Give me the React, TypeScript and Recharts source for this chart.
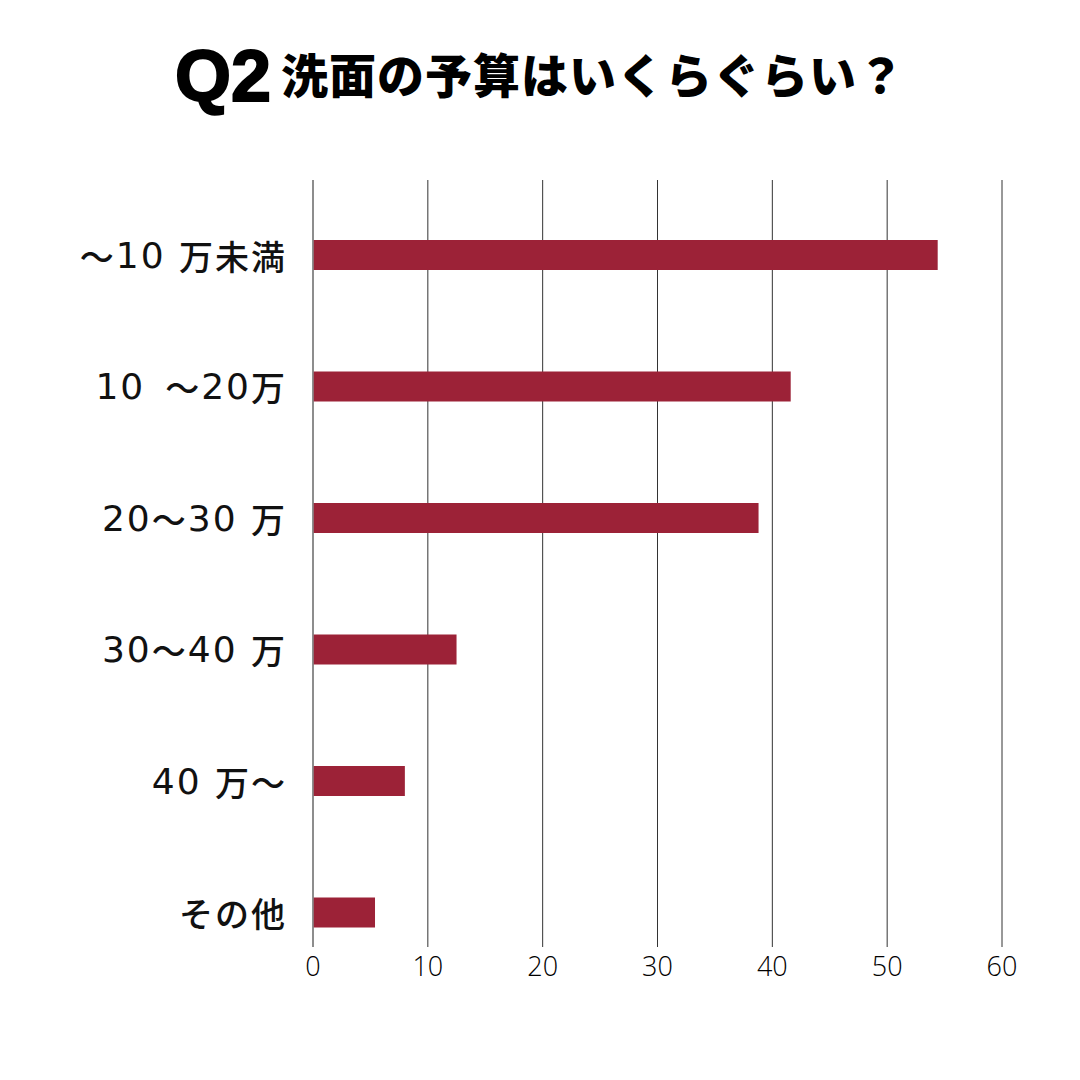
import React from "react";
import {
  BarChart, Bar, XAxis, YAxis, CartesianGrid, ReferenceLine
} from "recharts";

const CATEGORIES = ["～10 万未満", "10\u2002～20万", "20～30 万", "30～40 万", "40 万～", "その他"];
const VALUES = [54.4, 41.6, 38.8, 12.5, 8.0, 5.4];
const X_TICKS = [0, 10, 20, 30, 40, 50, 60];

const TITLE_Q = "Q2";
const TITLE_TEXT = "洗面の予算はいくらぐらい？";

const BAR_COLOR = "#9c2237";
const JP_FONT = "'Noto Sans CJK JP', 'Noto Sans', sans-serif";
const DIGIT_FONT = "'DejaVu Sans', sans-serif";

const data = CATEGORIES.map((label, i) => ({ label, value: VALUES[i] }));

// digits get a rounder latin face, kana/kanji stay in Noto CJK
function CategoryTick({ x, y, payload }: any) {
  const parts = String(payload.value).split(/([0-9 \u2002]+)/).filter(Boolean);
  return (
    <text
      x={x}
      y={y}
      textAnchor="end"
      dominantBaseline="central"
      letterSpacing={2}
      fill="#111"
      style={{ whiteSpace: "pre" }}
    >
      {parts.map((p, i) =>
        /^[0-9 \u2002]+$/.test(p) ? (
          <tspan key={i} fontFamily={DIGIT_FONT} fontSize={36}>{p}</tspan>
        ) : (
          <tspan key={i} fontFamily={JP_FONT} fontSize={34} fontWeight={500}>{p}</tspan>
        )
      )}
    </text>
  );
}

export default function App() {
  return (
    <div style={{ position: "absolute", left: 0, top: 0, width: 1080, height: 1080, background: "#fff" }}>
      <svg width={1080} height={130} style={{ position: "absolute", left: 0, top: 0 }}>
        <text x={175} y={101} fontFamily="'Liberation Sans', Arial, sans-serif" fontSize={72} fontWeight={700} fill="#000" stroke="#000" strokeWidth={2}>
          {TITLE_Q}
        </text>
        <text x={281} y={93} fontFamily={JP_FONT} fontSize={47} fontWeight={900} letterSpacing={1} fill="#000">
          {TITLE_TEXT}
        </text>
      </svg>
      <div style={{ position: "absolute", left: 0, top: 0 }}>
        <BarChart
          width={1080}
          height={1080}
          data={data}
          layout="vertical"
          margin={{ top: 180, right: 78, left: 33, bottom: 93 }}
        >
          <CartesianGrid horizontal={false} vertical={true} stroke="#333" strokeWidth={1} />
          <XAxis
            type="number"
            domain={[0, 60]}
            ticks={X_TICKS}
            interval={0}
            tickLine={false}
            axisLine={false}
            tickSize={0}
            tickMargin={10}
            height={40}
            tick={{ fill: "#000", fontSize: 27, fontFamily: "'Open Sans', sans-serif", fontWeight: 300 }}
          />
          <YAxis
            type="category"
            dataKey="label"
            width={280}
            tickLine={false}
            axisLine={false}
            tickSize={0}
            tickMargin={26}
            interval={0}
            padding={{ top: 9, bottom: -31 }}
            tick={<CategoryTick />}
          />
          <ReferenceLine x={0} stroke="#8a8a8a" strokeWidth={1.5} />
          <Bar dataKey="value" fill={BAR_COLOR} barSize={30} isAnimationActive={false} />
        </BarChart>
      </div>
    </div>
  );
}
